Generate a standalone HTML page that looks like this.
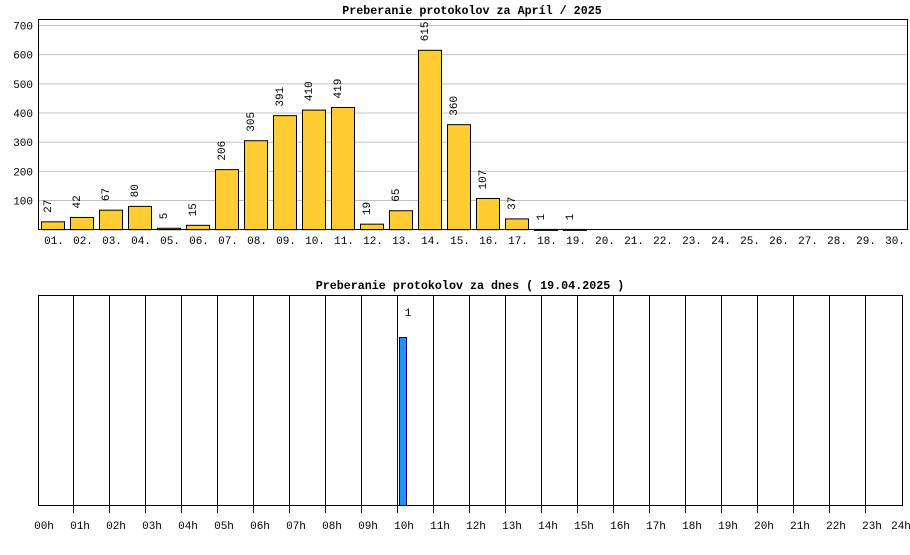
<!DOCTYPE html>
<html><head><meta charset="utf-8"><style>
body{margin:0;background:#fff}
svg text{font-family:"Liberation Mono",monospace;font-size:11px;fill:#000}
svg text.t{font-size:11.7px;font-weight:bold}
</style></head><body>
<svg id="s" width="910" height="550" xmlns="http://www.w3.org/2000/svg">
<rect width="910" height="550" fill="#fff"/>
<text class="t" x="472" y="14" text-anchor="middle">Preberanie protokolov za Apríl / 2025</text>
<text class="t" x="470" y="289" text-anchor="middle">Preberanie protokolov za dnes ( 19.04.2025 )</text>
<g id="gtop"></g>
<g id="gbot"></g>
</svg>
<script>
(function(){
var NS="http://www.w3.org/2000/svg";
function el(p,t,a,txt){var e=document.createElementNS(NS,t);for(var k in a)e.setAttribute(k,a[k]);if(txt!=null)e.textContent=txt;p.appendChild(e);return e;}
var tg=document.getElementById('gtop'),bg=document.getElementById('gbot');
var y0=229.7,k=0.2917;
for(var v=100;v<=700;v+=100){var y=y0-v*k;el(tg,'line',{x1:38,x2:907,y1:y,y2:y,stroke:'#c0c0c0','stroke-width':1});
el(tg,'text',{x:33,y:y+4,'text-anchor':'end'},String(v));}
var d=[27,42,67,80,5,15,206,305,391,410,419,19,65,615,360,107,37,1,1];
for(var i=0;i<30;i++){var x=38+29*i;
 el(tg,'text',{x:x+16,y:244,'text-anchor':'middle'},(i<9?'0':'')+(i+1)+'.');
 if(i<d.length){var h=d[i]*k,yt=y0-h;
  el(tg,'rect',{x:x+3.5,y:yt,width:23,height:Math.max(h,1),fill:'#ffcc33',stroke:'#000','stroke-width':1});
  el(tg,'text',{transform:'translate('+(x+13)+','+(yt-9)+') rotate(-90)'},String(d[i]));}}
el(tg,'rect',{x:38.5,y:19.5,width:869,height:210,fill:'none',stroke:'#000','stroke-width':1});
for(var hh=0;hh<=24;hh++){var xx=38+36*hh;
 if(hh>0&&hh<24)el(bg,'line',{x1:xx-0.5,x2:xx-0.5,y1:295,y2:513,stroke:'#000080','stroke-width':1});
 el(bg,'text',{x:(hh==24?901:xx+6),y:529,'text-anchor':'middle'},(hh<10?'0':'')+hh+'h');}
el(bg,'rect',{x:399.5,y:337.5,width:7,height:168,fill:'#1e90ff',stroke:'#000080','stroke-width':1});
el(bg,'text',{x:408,y:316,'text-anchor':'middle'},'1');
el(bg,'rect',{x:38.5,y:295.5,width:864,height:210,fill:'none',stroke:'#000','stroke-width':1});
})();
</script>
</body></html>
